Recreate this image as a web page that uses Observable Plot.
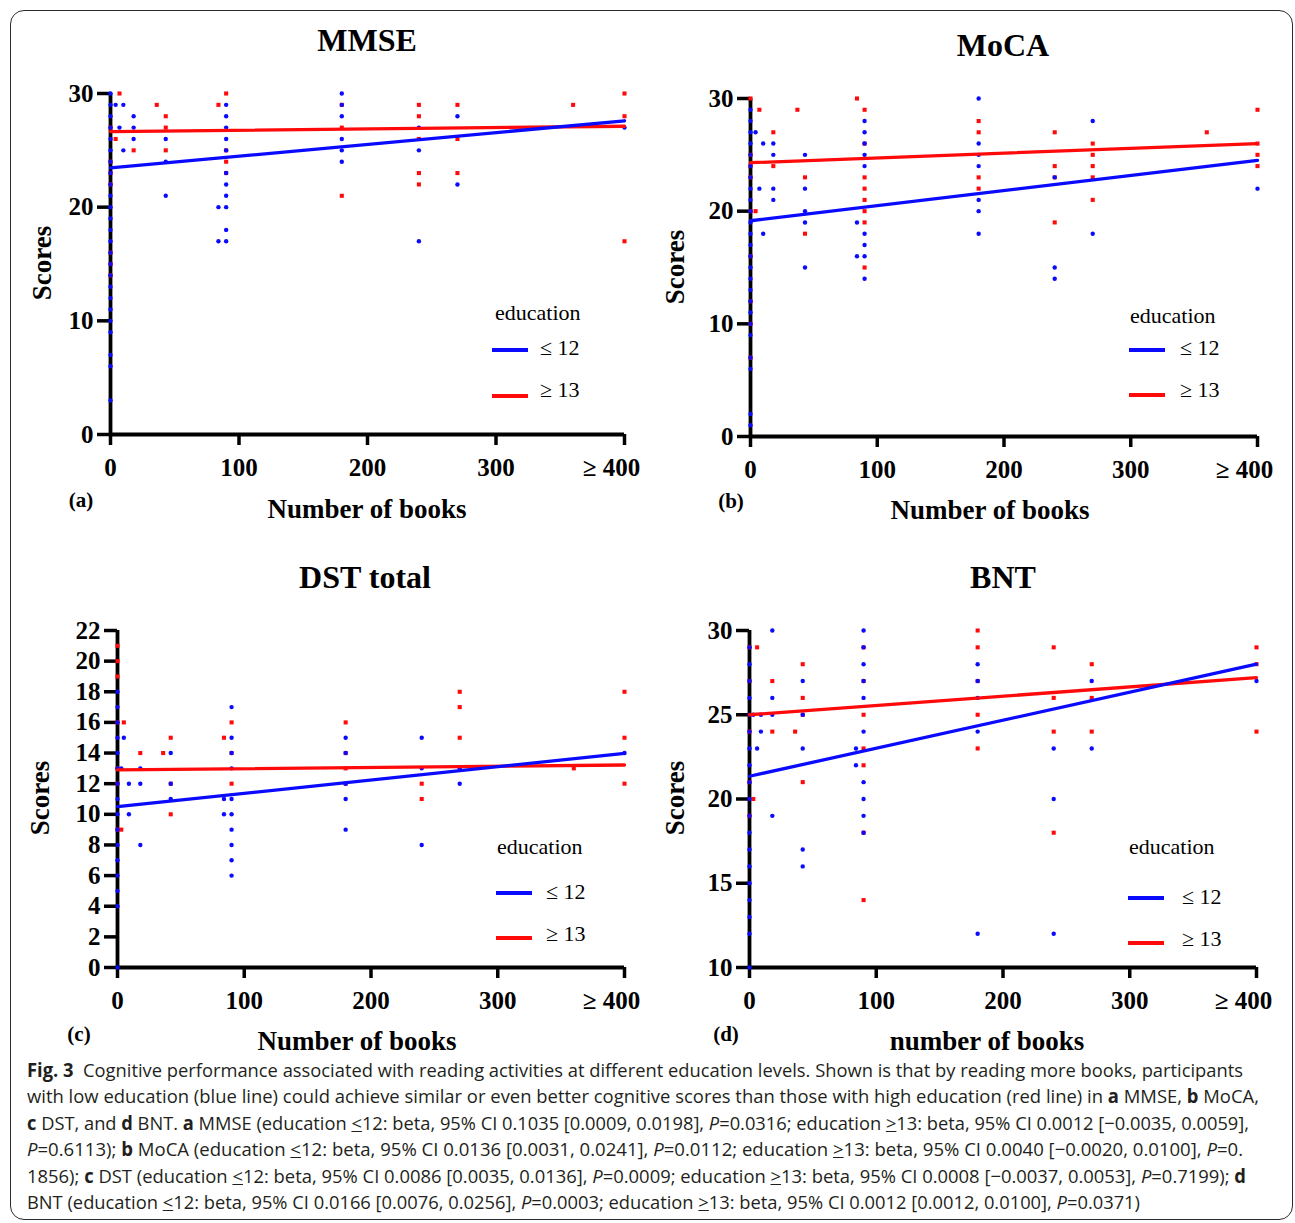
<!DOCTYPE html>
<html>
<head>
<meta charset="utf-8">
<script src="https://cdn.jsdelivr.net/npm/d3@7"></script>
<script src="https://cdn.jsdelivr.net/npm/@observablehq/plot@0.6"></script>
<style>
  html, body { margin: 0; padding: 0; background: #fff; }
  #root { position: relative; width: 1295px; height: 1223px; background: #fff; overflow: hidden; }
  .abs { position: absolute; white-space: nowrap; line-height: 1; }
  .ctr { transform: translate(-50%, -50%); }
  .serif { font-family: 'Liberation Serif', 'Times New Roman', serif; color: #000; }
  .title { font-size: 32px; font-weight: bold; }
  .axlab { font-size: 27px; font-weight: bold; }
  .plab { font-size: 21px; font-weight: bold; }
  .leg { font-size: 22px; }
  .swatch { position: absolute; height: 3.5px; width: 36px; }
  #border { position: absolute; left: 10px; top: 10px; width: 1281px; height: 1208px; border: 1.5px solid #2a2a2a; border-radius: 14px; }
  .cap { position: absolute; left: 27px; font-family: 'Open Sans', 'Noto Sans', sans-serif; font-size: 19px; color: #231f20; white-space: nowrap; line-height: 1; transform-origin: 0 50%; }
  .cap b { font-weight: 700; }
</style>
</head>
<body>
<div id="root"><div id="border"></div></div>
<script>
// ---------------- data ----------------
const xTicks = [0, 100, 200, 300, 400];
const xTickLabels = ["0", "100", "200", "300", "≥ 400"];
const groupNames = ["≤ 12", "≥ 13"];
const panelTitles = ["MMSE", "MoCA", "DST total", "BNT"];
const panelLetters = ["(a)", "(b)", "(c)", "(d)"];
const xTitles = ["Number of books", "Number of books", "Number of books", "number of books"];

// each entry: [number of books, [scores...]]
const mmseLow = [
  [0, [30,29,28,27,26,25,24,23,22,21,20,19,18,17,16,15,14,13,12,11,10,9,7,6,3]],
  [4, [29]], [7, [27]], [10, [29,25]], [18, [28,27,26]], [43, [26,24,21]],
  [84, [20,17]], [90, [29,28,27,26,25,23,22,21,20,18,17]],
  [180, [30,29,28,26,25,24]], [240, [27,25,17]], [270, [28,22]], [400, [27]]
];
const mmseHigh = [
  [0, [27,24,23,22,16,15,14]], [4, [26]], [7, [30]], [18, [25]], [36, [29]],
  [43, [28,27,25]], [84, [29]], [90, [30,25,24,23]], [180, [29,27,21]],
  [240, [29,28,26,23,22]], [270, [29,26,23]], [360, [29]], [400, [30,28,17]]
];
const mmseLowFit = [[0, 23.45], [400, 27.6]];
const mmseHighFit = [[0, 26.65], [400, 27.12]];

const mocaLow = [
  [0, [29,28,27,26,25,24,23,22,21,20,19,18,17,16,15,14,13,12,11,10,9,7,6,2,1]],
  [4, [27]], [7, [22]], [10, [26,18]], [18, [26,25,22,21]], [43, [25,22,20,19,15]],
  [84, [19,16]], [90, [28,27,26,25,24,18,17,16,14]],
  [180, [30,26,25,24,21,20,18]], [240, [23,15,14]], [270, [28,18]], [400, [22]]
];
const mocaHigh = [
  [0, [30,25,24,23,20,16,12,10,7]], [4, [20]], [7, [29]], [18, [27,24]], [37, [29]],
  [43, [23,18]], [84, [30]], [90, [29,26,23,22,21,20,19,15]], [180, [28,27,23,22]],
  [240, [27,24,23,19]], [270, [26,25,24,23,21]], [360, [27]], [400, [29,26,25,24]]
];
const mocaLowFit = [[0, 19.15], [400, 24.5]];
const mocaHighFit = [[0, 24.3], [400, 26.0]];

const dstLow = [
  [0, [18,17,16,15,14,13,12,11,10,9,8,7,6,5,4,0]],
  [3, [13]], [5, [15]], [9, [12,10]], [18, [13,12,8]], [42, [14,12,11]],
  [84, [11,10]], [90, [17,15,14,13,11,10,9,8,7,6]],
  [180, [15,14,12,11,9]], [240, [15,13,8]], [270, [13,12]], [400, [14]]
];
const dstHigh = [
  [0, [21,20,19,16,13,12,9]], [3, [9]], [5, [16]], [18, [14]], [36, [14]],
  [42, [15,12,10]], [84, [15]], [90, [16,14,12]], [180, [16,14,13,12]],
  [240, [12,11]], [270, [18,17,15]], [360, [13]], [400, [18,15,12]]
];
const dstLowFit = [[0, 10.5], [400, 13.98]];
const dstHighFit = [[0, 12.9], [400, 13.22]];

const bntLow = [
  [0, [29,28,27,26,25,24,23,22,21,20,19,18,17,16,15,14,13,12,10]],
  [3, [25]], [6, [23]], [9, [25,24]], [18, [30,26,25,19]], [42, [27,25,23,17,16]],
  [84, [23,22]], [90, [30,29,28,27,26,24,21,20,19,18]],
  [180, [28,27,26,24,12]], [240, [23,20,12]], [270, [27,23]], [400, [27]]
];
const bntHigh = [
  [0, [29,27,24,21,19]], [3, [20]], [6, [29]], [18, [27,24]], [36, [24]],
  [42, [28,26,25,21]], [90, [29,27,25,23,22,18,14]], [180, [30,29,27,25,23]],
  [240, [29,26,24,18]], [270, [28,26,24]], [400, [29,28,24]]
];
const bntLowFit = [[0, 21.35], [400, 28.0]];
const bntHighFit = [[0, 25.0], [400, 27.2]];

const yDomains = [[0, 30], [0, 30], [0, 22], [10, 30]];
const yTickSets = [[0, 10, 20, 30], [0, 10, 20, 30], [0,2,4,6,8,10,12,14,16,18,20,22], [10, 15, 20, 25, 30]];

const captionLines = [
  "<b>Fig. 3</b>&nbsp; Cognitive performance associated with reading activities at different education levels. Shown is that by reading more books, participants",
  "with low education (blue line) could achieve similar or even better cognitive scores than those with high education (red line) in <b>a</b> MMSE, <b>b</b> MoCA,",
  "<b>c</b> DST, and <b>d</b> BNT. <b>a</b> MMSE (education <u>&lt;</u>12: beta, 95% CI 0.1035 [0.0009, 0.0198], <i>P</i>=0.0316; education <u>&gt;</u>13: beta, 95% CI 0.0012 [−0.0035, 0.0059],",
  "<i>P</i>=0.6113); <b>b</b> MoCA (education <u>&lt;</u>12: beta, 95% CI 0.0136 [0.0031, 0.0241], <i>P</i>=0.0112; education <u>&gt;</u>13: beta, 95% CI 0.0040 [−0.0020, 0.0100], <i>P</i>=0.",
  "1856); <b>c</b> DST (education <u>&lt;</u>12: beta, 95% CI 0.0086 [0.0035, 0.0136], <i>P</i>=0.0009; education <u>&gt;</u>13: beta, 95% CI 0.0008 [−0.0037, 0.0053], <i>P</i>=0.7199); <b>d</b>",
  "BNT (education <u>&lt;</u>12: beta, 95% CI 0.0166 [0.0076, 0.0256], <i>P</i>=0.0003; education <u>&gt;</u>13: beta, 95% CI 0.0012 [0.0012, 0.0100], <i>P</i>=0.0371)"
];

// ---------------- layout ----------------
const BLUE = "#0a0aff", RED = "#ff0a0a";
const SERIF = "'Liberation Serif', 'Times New Roman', serif";
const root = document.getElementById("root");

const layouts = [
  { box: {x: 20, y: 60, w: 640, h: 440}, frame: {l: 110, r: 624, t: 93, b: 434},
    title: [367, 40], ylab: [42, 263], plab: [81, 500], xlab: [367, 509],
    legend: {tx: 495, ty: 313, sx: 492, sy1: 350, sy2: 396, lx: 540, ly1: 348, ly2: 390} },
  { box: {x: 660, y: 60, w: 630, h: 440}, frame: {l: 750, r: 1257, t: 98, b: 436},
    title: [1003, 45], ylab: [675, 267], plab: [731, 501], xlab: [990, 510],
    legend: {tx: 1130, ty: 316, sx: 1129, sy1: 350, sy2: 395, lx: 1180, ly1: 348, ly2: 390} },
  { box: {x: 20, y: 600, w: 640, h: 420}, frame: {l: 117, r: 624, t: 630, b: 967},
    title: [365, 577], ylab: [40, 798], plab: [79, 1034], xlab: [357, 1041],
    legend: {tx: 497, ty: 847, sx: 496, sy1: 893, sy2: 938, lx: 546, ly1: 892, ly2: 934} },
  { box: {x: 660, y: 600, w: 630, h: 420}, frame: {l: 749, r: 1256, t: 630, b: 967},
    title: [1003, 577], ylab: [675, 798], plab: [726, 1034], xlab: [987, 1041],
    legend: {tx: 1129, ty: 847, sx: 1128, sy1: 898, sy2: 943, lx: 1182, ly1: 897, ly2: 939} }
];

const panelData = [
  [mmseLow, mmseHigh, mmseLowFit, mmseHighFit],
  [mocaLow, mocaHigh, mocaLowFit, mocaHighFit],
  [dstLow, dstHigh, dstLowFit, dstHighFit],
  [bntLow, bntHigh, bntLowFit, bntHighFit]
];

function flatten(cols) {
  const out = [];
  for (const [books, scores] of cols) for (const s of scores) out.push({books, score: s});
  return out;
}
function fitRows(pairs) { return pairs.map(([books, score]) => ({books, score})); }

function addText(html, x, y, cls, center = true) {
  const d = document.createElement("div");
  d.className = "abs serif " + cls + (center ? " ctr" : "");
  d.style.left = x + "px"; d.style.top = y + "px";
  d.innerHTML = html;
  root.appendChild(d);
  return d;
}

panelData.forEach((pd, i) => {
  const L = layouts[i];
  const [low, high, lowFit, highFit] = pd;
  const yd = yDomains[i];
  const {box, frame} = L;
  const axisFont = {fontFamily: SERIF, fontSize: 25, fontWeight: "bold"};
  const plot = Plot.plot({
    width: box.w, height: box.h,
    marginLeft: frame.l - box.x, marginRight: box.x + box.w - frame.r,
    marginTop: frame.t - box.y, marginBottom: box.y + box.h - frame.b,
    x: {domain: [0, 400]},
    y: {domain: yd},
    style: {background: "transparent", overflow: "visible", color: "#000", fontFamily: SERIF, fontSize: "25px", fontWeight: "bold"},
    marks: [
      Plot.axisY({ticks: yTickSets[i], tickSize: 13, tickPadding: 4, strokeWidth: 3.5, label: null, tickFormat: d => String(d), ...axisFont}),
      Plot.axisX({ticks: xTicks, tickSize: 11, tickPadding: 13, strokeWidth: 3.5, label: null,
                  tickFormat: d => (d === 400 ? "" : xTickLabels[xTicks.indexOf(d)]), ...axisFont}),
      Plot.axisX({ticks: [400], tickSize: 0, tickPadding: 24, label: null, dx: -13,
                  tickFormat: d => xTickLabels[xTicks.indexOf(d)], ...axisFont}),
      Plot.ruleX([0], {y1: yd[0], y2: yd[1], stroke: "#000", strokeWidth: 3.8}),
      Plot.ruleY([yd[0]], {x1: 0, x2: 400, stroke: "#000", strokeWidth: 3.8}),
      Plot.dot(flatten(high), {x: "books", y: "score", symbol: "square", r: 2.3, fill: RED, stroke: "none"}),
      Plot.dot(flatten(low), {x: "books", y: "score", r: 2.2, fill: BLUE, stroke: "none"}),
      Plot.line(fitRows(highFit), {x: "books", y: "score", stroke: RED, strokeWidth: 3.3}),
      Plot.line(fitRows(lowFit), {x: "books", y: "score", stroke: BLUE, strokeWidth: 3.3})
    ]
  });
  plot.style.position = "absolute";
  plot.style.left = box.x + "px";
  plot.style.top = box.y + "px";
  plot.style.maxWidth = "none";
  root.appendChild(plot);

  addText(panelTitles[i], L.title[0], L.title[1], "title");
  const yl = addText("Scores", L.ylab[0], L.ylab[1], "axlab", false);
  yl.style.transform = "translate(-50%, -50%) rotate(-90deg)";
  addText(panelLetters[i], L.plab[0], L.plab[1], "plab");
  addText(xTitles[i], L.xlab[0], L.xlab[1], "axlab");

  const lg = L.legend;
  addText("education", lg.tx, lg.ty - 11, "leg", false);
  [[BLUE, lg.sy1, lg.ly1, groupNames[0]], [RED, lg.sy2, lg.ly2, groupNames[1]]].forEach(([c, sy, ly, name]) => {
    const s = document.createElement("div");
    s.className = "swatch";
    s.style.left = lg.sx + "px"; s.style.top = (sy - 1.75) + "px"; s.style.background = c;
    root.appendChild(s);
    addText(name, lg.lx, ly - 11, "leg", false);
  });
});

// caption
const capTargets = [1216, 1232, 1222, 1216, 1219, 1113];
captionLines.forEach((html, i) => {
  const d = document.createElement("div");
  d.className = "cap";
  d.style.top = (1061 + i * 26.4) + "px";
  d.innerHTML = html;
  root.appendChild(d);
  const w = d.getBoundingClientRect().width;
  d.style.transform = `scaleX(${capTargets[i] / w})`;
});
</script>
</body>
</html>
